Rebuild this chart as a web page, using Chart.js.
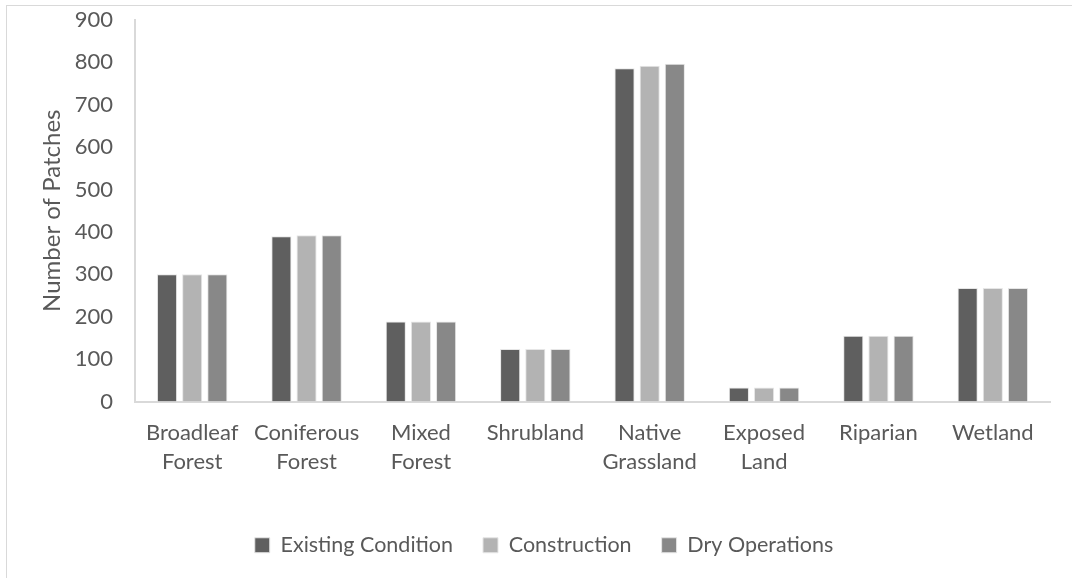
<!DOCTYPE html>
<html lang="en">
<head>
    <meta charset="UTF-8">
    <title>Number of Patches by Land Cover</title>
    <script src="https://cdn.jsdelivr.net/npm/chart.js"></script>
    <style>
        html, body {
            margin: 0;
            padding: 0;
            background: #ffffff;
        }
        .frame {
            position: absolute;
            left: 6px;
            top: 5px;
            width: 1100px;
            height: 600px;
            border: 1px solid #d9d9d9;
        }
        .chart-box {
            position: absolute;
            left: 0;
            top: 0;
            width: 1072px;
            height: 578px;
        }
    </style>
</head>
<body>
    <div class="frame"></div>
    <div class="chart-box">
        <canvas id="patchChart" width="1072" height="578"></canvas>
    </div>

    <script>
        const categories = [
            ['Broadleaf', 'Forest'],
            ['Coniferous', 'Forest'],
            ['Mixed', 'Forest'],
            'Shrubland',
            ['Native', 'Grassland'],
            ['Exposed', 'Land'],
            'Riparian',
            'Wetland'
        ];
        const existingCondition = [300, 390, 189, 124, 786, 33, 155, 268];
        const construction = [300, 392, 189, 124, 792, 33, 155, 268];
        const dryOperations = [300, 392, 189, 124, 797, 33, 155, 268];
        const yTicks = [0, 100, 200, 300, 400, 500, 600, 700, 800, 900];

        const textColor = '#595959';
        const fontFamily = 'Lato, "Open Sans", sans-serif';

        function makeSeries(label, data, color) {
            return {
                label: label,
                data: data,
                backgroundColor: color,
                borderColor: '#e6e6e6',
                borderWidth: 1,
                barPercentage: 0.8,
                categoryPercentage: 0.66
            };
        }

        new Chart(document.getElementById('patchChart').getContext('2d'), {
            type: 'bar',
            data: {
                labels: categories,
                datasets: [
                    makeSeries('Existing Condition', existingCondition, '#5f5f5f'),
                    makeSeries('Construction', construction, '#b3b3b3'),
                    makeSeries('Dry Operations', dryOperations, '#888888')
                ]
            },
            options: {
                responsive: false,
                animation: false,
                devicePixelRatio: 1,
                layout: {
                    padding: { left: 38, right: 22, top: 20, bottom: 12 }
                },
                plugins: {
                    legend: {
                        position: 'bottom',
                        labels: {
                            color: textColor,
                            boxWidth: 15,
                            boxHeight: 15,
                            padding: 30,
                            font: { family: fontFamily, size: 21.5 }
                        }
                    },
                    tooltip: { enabled: false }
                },
                scales: {
                    x: {
                        grid: { display: false, drawTicks: false },
                        border: { color: '#d9d9d9', width: 2 },
                        ticks: {
                            color: textColor,
                            padding: 17,
                            maxRotation: 0,
                            autoSkip: false,
                            font: { family: fontFamily, size: 22, lineHeight: 1.32 }
                        },
                        afterFit: function (scale) { scale.height = 103; }
                    },
                    y: {
                        min: 0,
                        max: 900,
                        afterBuildTicks: function (scale) {
                            scale.ticks = yTicks.map(v => ({ value: v }));
                        },
                        grid: { display: false, drawTicks: false },
                        border: { color: '#d9d9d9', width: 2 },
                        ticks: {
                            color: textColor,
                            padding: 22,
                            font: { family: fontFamily, size: 22 }
                        },
                        title: {
                            display: true,
                            text: 'Number of Patches',
                            color: textColor,
                            padding: 0,
                            font: { family: fontFamily, size: 24 }
                        },
                        afterFit: function (scale) {
                            scale.width = 97;
                            scale.paddingTop = 0;
                            scale.paddingBottom = 0;
                        }
                    }
                }
            }
        });
    </script>
</body>
</html>
